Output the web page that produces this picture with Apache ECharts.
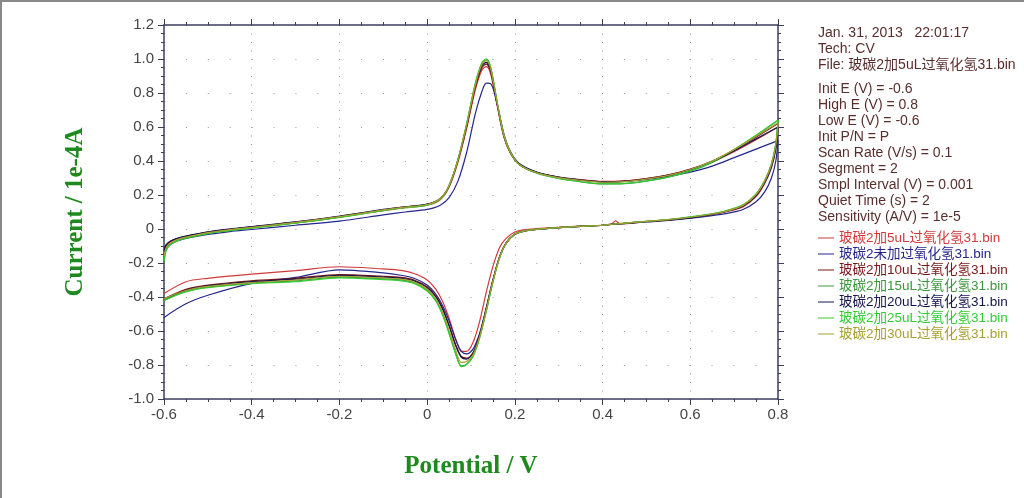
<!DOCTYPE html>
<html>
<head>
<meta charset="utf-8">
<style>
  html, body { margin: 0; padding: 0; background: #fff; }
  #chart { width: 1024px; height: 498px; }
</style>
<script src="https://cdn.jsdelivr.net/npm/echarts@6/dist/echarts.min.js"></script>
</head>
<body>
<div id="chart"></div>
<script>
// potential grid (V) for forward scan -0.6 -> 0.8 and reverse scan 0.8 -> -0.6
var fwdE = [-0.6, -0.595, -0.585, -0.57, -0.55, -0.5, -0.45, -0.4, -0.3, -0.2, -0.1, -0.05, 0, 0.03, 0.05, 0.07, 0.09, 0.11, 0.125, 0.135, 0.145, 0.16, 0.175, 0.19, 0.21, 0.25, 0.3, 0.35, 0.4, 0.45, 0.5, 0.55, 0.6, 0.65, 0.7, 0.75, 0.8]
var revE = [0.8, 0.795, 0.785, 0.77, 0.75, 0.72, 0.68, 0.64, 0.6, 0.55, 0.5, 0.44, 0.43, 0.42, 0.4, 0.35, 0.3, 0.25, 0.22, 0.2, 0.18, 0.165, 0.15, 0.135, 0.12, 0.105, 0.09, 0.078, 0.065, 0.05, 0.035, 0.02, 0, -0.03, -0.06, -0.1, -0.2, -0.3, -0.4, -0.5, -0.55, -0.6]

// current (1e-4 A)
var fwd5 = [-0.14, -0.1, -0.075, -0.058, -0.045, -0.02, -0.004, 0.01, 0.036, 0.07, 0.108, 0.125, 0.14, 0.172, 0.245, 0.39, 0.59, 0.82, 0.935, 0.955, 0.91, 0.72, 0.54, 0.445, 0.38, 0.332, 0.305, 0.29, 0.28, 0.283, 0.297, 0.318, 0.35, 0.395, 0.455, 0.525, 0.6]
var rev5 = [0.6, 0.47, 0.36, 0.27, 0.19, 0.13, 0.1, 0.08, 0.065, 0.052, 0.043, 0.03, 0.048, 0.03, 0.022, 0.017, 0.01, 0.002, -0.005, -0.018, -0.055, -0.11, -0.22, -0.37, -0.54, -0.665, -0.72, -0.72, -0.645, -0.525, -0.425, -0.355, -0.3, -0.262, -0.243, -0.235, -0.222, -0.245, -0.265, -0.29, -0.31, -0.38]

var fwd0 = [-0.15, -0.115, -0.09, -0.07, -0.055, -0.032, -0.015, -0.003, 0.022, 0.046, 0.083, 0.1, 0.115, 0.14, 0.185, 0.28, 0.45, 0.68, 0.81, 0.858, 0.855, 0.73, 0.56, 0.455, 0.385, 0.335, 0.305, 0.288, 0.277, 0.28, 0.292, 0.31, 0.335, 0.37, 0.42, 0.47, 0.52]
var rev0 = [0.52, 0.4, 0.3, 0.22, 0.16, 0.115, 0.09, 0.075, 0.063, 0.05, 0.042, 0.03, 0.029, 0.027, 0.022, 0.016, 0.008, -0.003, -0.014, -0.032, -0.085, -0.165, -0.3, -0.46, -0.61, -0.705, -0.735, -0.72, -0.65, -0.54, -0.45, -0.385, -0.33, -0.29, -0.272, -0.258, -0.24, -0.285, -0.32, -0.39, -0.44, -0.52]

var fwd10 = [-0.13, -0.095, -0.072, -0.056, -0.043, -0.018, -0.002, 0.012, 0.04, 0.074, 0.113, 0.13, 0.145, 0.178, 0.252, 0.4, 0.6, 0.835, 0.95, 0.97, 0.925, 0.73, 0.545, 0.448, 0.38, 0.332, 0.303, 0.288, 0.278, 0.282, 0.296, 0.318, 0.352, 0.4, 0.465, 0.54, 0.62]
var rev10 = [0.62, 0.49, 0.375, 0.28, 0.2, 0.137, 0.103, 0.083, 0.068, 0.054, 0.044, 0.031, 0.03, 0.028, 0.022, 0.016, 0.008, -0.002, -0.012, -0.03, -0.082, -0.165, -0.3, -0.465, -0.62, -0.725, -0.76, -0.75, -0.68, -0.565, -0.465, -0.395, -0.34, -0.3, -0.285, -0.278, -0.268, -0.29, -0.305, -0.33, -0.355, -0.41]

var fwd15 = [-0.2, -0.125, -0.09, -0.068, -0.052, -0.025, -0.008, 0.007, 0.036, 0.07, 0.11, 0.127, 0.142, 0.177, 0.255, 0.405, 0.615, 0.855, 0.975, 0.998, 0.948, 0.74, 0.55, 0.45, 0.378, 0.328, 0.297, 0.278, 0.265, 0.267, 0.282, 0.305, 0.34, 0.392, 0.465, 0.55, 0.64]
var rev15 = [0.64, 0.5, 0.38, 0.285, 0.205, 0.14, 0.105, 0.085, 0.07, 0.055, 0.045, 0.032, 0.03, 0.028, 0.022, 0.016, 0.008, -0.002, -0.012, -0.03, -0.085, -0.17, -0.31, -0.48, -0.635, -0.745, -0.795, -0.805, -0.73, -0.61, -0.5, -0.42, -0.36, -0.315, -0.3, -0.293, -0.283, -0.305, -0.318, -0.342, -0.365, -0.41]

var fwd20 = [-0.13, -0.092, -0.07, -0.055, -0.042, -0.017, 0.0, 0.014, 0.042, 0.076, 0.115, 0.131, 0.146, 0.18, 0.255, 0.405, 0.61, 0.845, 0.96, 0.98, 0.935, 0.735, 0.548, 0.45, 0.382, 0.333, 0.304, 0.288, 0.277, 0.28, 0.294, 0.315, 0.348, 0.395, 0.46, 0.53, 0.6]
var rev20 = [0.6, 0.475, 0.365, 0.275, 0.197, 0.135, 0.102, 0.082, 0.067, 0.053, 0.044, 0.031, 0.03, 0.028, 0.022, 0.016, 0.008, -0.002, -0.012, -0.03, -0.083, -0.167, -0.305, -0.47, -0.625, -0.73, -0.765, -0.755, -0.685, -0.57, -0.47, -0.4, -0.345, -0.305, -0.29, -0.283, -0.273, -0.295, -0.31, -0.335, -0.36, -0.42]

var fwd25 = [-0.19, -0.125, -0.092, -0.07, -0.054, -0.027, -0.01, 0.005, 0.034, 0.068, 0.108, 0.125, 0.14, 0.176, 0.255, 0.408, 0.62, 0.86, 0.98, 1.0, 0.95, 0.742, 0.552, 0.452, 0.38, 0.33, 0.298, 0.278, 0.266, 0.268, 0.283, 0.306, 0.342, 0.395, 0.468, 0.552, 0.64]
var rev25 = [0.64, 0.505, 0.385, 0.288, 0.207, 0.142, 0.106, 0.086, 0.071, 0.056, 0.045, 0.032, 0.03, 0.028, 0.022, 0.016, 0.008, -0.002, -0.012, -0.03, -0.086, -0.172, -0.312, -0.482, -0.638, -0.748, -0.798, -0.81, -0.735, -0.615, -0.505, -0.425, -0.365, -0.32, -0.305, -0.298, -0.288, -0.31, -0.322, -0.345, -0.37, -0.42]

var fwd30 = [-0.16, -0.11, -0.082, -0.062, -0.048, -0.021, -0.004, 0.01, 0.039, 0.073, 0.112, 0.129, 0.144, 0.179, 0.256, 0.405, 0.612, 0.85, 0.97, 0.99, 0.942, 0.738, 0.55, 0.45, 0.38, 0.331, 0.302, 0.286, 0.275, 0.279, 0.293, 0.315, 0.35, 0.4, 0.468, 0.545, 0.625]
var rev30 = [0.625, 0.495, 0.378, 0.283, 0.203, 0.139, 0.104, 0.084, 0.069, 0.055, 0.045, 0.032, 0.03, 0.028, 0.022, 0.016, 0.008, -0.002, -0.012, -0.03, -0.084, -0.168, -0.307, -0.475, -0.63, -0.738, -0.78, -0.785, -0.712, -0.595, -0.49, -0.412, -0.353, -0.31, -0.295, -0.288, -0.278, -0.3, -0.315, -0.338, -0.362, -0.41]

var names = ['玻碳2加5uL过氧化氢31.bin', '玻碳2未加过氧化氢31.bin', '玻碳2加10uL过氧化氢31.bin', '玻碳2加15uL过氧化氢31.bin', '玻碳2加20uL过氧化氢31.bin', '玻碳2加25uL过氧化氢31.bin', '玻碳2加30uL过氧化氢31.bin']
var colors = ['#d03a3a', '#25258c', '#7a1616', '#3a983a', '#14144e', '#33cc33', '#a89f30']
var fwdAll = [fwd5, fwd0, fwd10, fwd15, fwd20, fwd25, fwd30]
var revAll = [rev5, rev0, rev10, rev15, rev20, rev25, rev30]

var infoHead = ['Jan. 31, 2013   22:01:17', 'Tech: CV', 'File: 玻碳2加5uL过氧化氢31.bin']
var infoParams = ['Init E (V) = -0.6', 'High E (V) = 0.8', 'Low E (V) = -0.6', 'Init P/N = P', 'Scan Rate (V/s) = 0.1', 'Segment = 2', 'Smpl Interval (V) = 0.001', 'Quiet Time (s) = 2', 'Sensitivity (A/V) = 1e-5']

var sans = '"Liberation Sans", Arial, "Noto Sans CJK SC", sans-serif'
var serif = '"Liberation Serif", "Times New Roman", serif'
var axisColor = '#3c3c5c'

function tickFmt(v) {
  if (Math.abs(v) < 1e-9) return '0'
  return v.toFixed(1)
}

var chart = echarts.init(document.getElementById('chart'))

var series = names.map(function(n, k) {
  var pts = fwdE.map(function(e, i) { return [e, fwdAll[k][i]] })
  revE.forEach(function(e, i) { pts.push([e, revAll[k][i]]) })
  return {
    name: n,
    type: 'line',
    data: pts,
    smooth: 0.3,
    showSymbol: false,
    color: colors[k],
    lineStyle: { width: 1.2, color: colors[k] }
  }
})

var baseX = {
  type: 'value', min: -0.6, max: 0.8, interval: 0.2,
  axisLine: { show: true, onZero: false, lineStyle: { color: axisColor, width: 1.5 } },
  axisTick: { show: true, inside: false, length: 6, lineStyle: { color: axisColor } },
  minorTick: { show: true, splitNumber: 4, length: 3, lineStyle: { color: axisColor } }
}
var baseY = {
  type: 'value', min: -1.0, max: 1.2, interval: 0.2,
  axisLine: { show: true, onZero: false, lineStyle: { color: axisColor, width: 1.5 } },
  axisTick: { show: true, inside: false, length: 6, lineStyle: { color: axisColor } },
  minorTick: { show: true, splitNumber: 4, length: 3, lineStyle: { color: axisColor } }
}

chart.setOption({
  animation: false,
  backgroundColor: '#fff',
  grid: { left: 164, right: 246, top: 25, bottom: 99 },
  xAxis: [
    Object.assign({}, baseX, {
      position: 'bottom',
      name: 'Potential / V',
      nameLocation: 'middle',
      nameGap: 55,
      nameTextStyle: { fontFamily: serif, fontWeight: 'bold', fontSize: 25, color: '#1e8a1e' },
      axisLabel: { formatter: tickFmt, fontFamily: sans, fontSize: 15, color: '#444', margin: 8 },
      splitLine: { show: true, lineStyle: { color: '#999', type: [1, 7.5], width: 1 } }
    }),
    Object.assign({}, baseX, {
      position: 'top',
      axisLabel: { show: false },
      splitLine: { show: false }
    })
  ],
  yAxis: [
    Object.assign({}, baseY, {
      position: 'left',
      name: 'Current / 1e-4A',
      nameLocation: 'middle',
      nameGap: 76,
      nameTextStyle: { fontFamily: serif, fontWeight: 'bold', fontSize: 25, color: '#1e8a1e' },
      axisLabel: { formatter: tickFmt, fontFamily: sans, fontSize: 15, color: '#444', margin: 10 },
      splitLine: { show: true, lineStyle: { color: '#999', type: [1, 20.9], width: 1 } }
    }),
    Object.assign({}, baseY, {
      position: 'right',
      axisLabel: { show: false },
      splitLine: { show: false }
    })
  ],
  legend: {
    orient: 'vertical',
    left: 818,
    top: 231,
    padding: 0,
    icon: 'rect',
    itemWidth: 16,
    itemHeight: 1,
    itemGap: 2,
    textStyle: { fontFamily: sans, fontSize: 13.5, lineHeight: 14 },
    data: names.map(function(n, k) {
      return { name: n, textStyle: { color: colors[k] } }
    })
  },
  graphic: [
    { type: 'line', shape: { x1: 1, y1: 0, x2: 1, y2: 498 }, style: { stroke: '#888', lineWidth: 2 } },
    { type: 'line', shape: { x1: 0, y1: 1, x2: 1024, y2: 1 }, style: { stroke: '#888', lineWidth: 2 } },
    {
      type: 'text', left: 818, top: 25,
      style: { text: infoHead.join('\n'), font: '14px ' + sans, fill: '#5a2d2d', lineHeight: 16 }
    },
    {
      type: 'text', left: 818, top: 81,
      style: { text: infoParams.join('\n'), font: '14px ' + sans, fill: '#5a2d2d', lineHeight: 16 }
    }
  ],
  series: series
})
</script>
</body>
</html>
